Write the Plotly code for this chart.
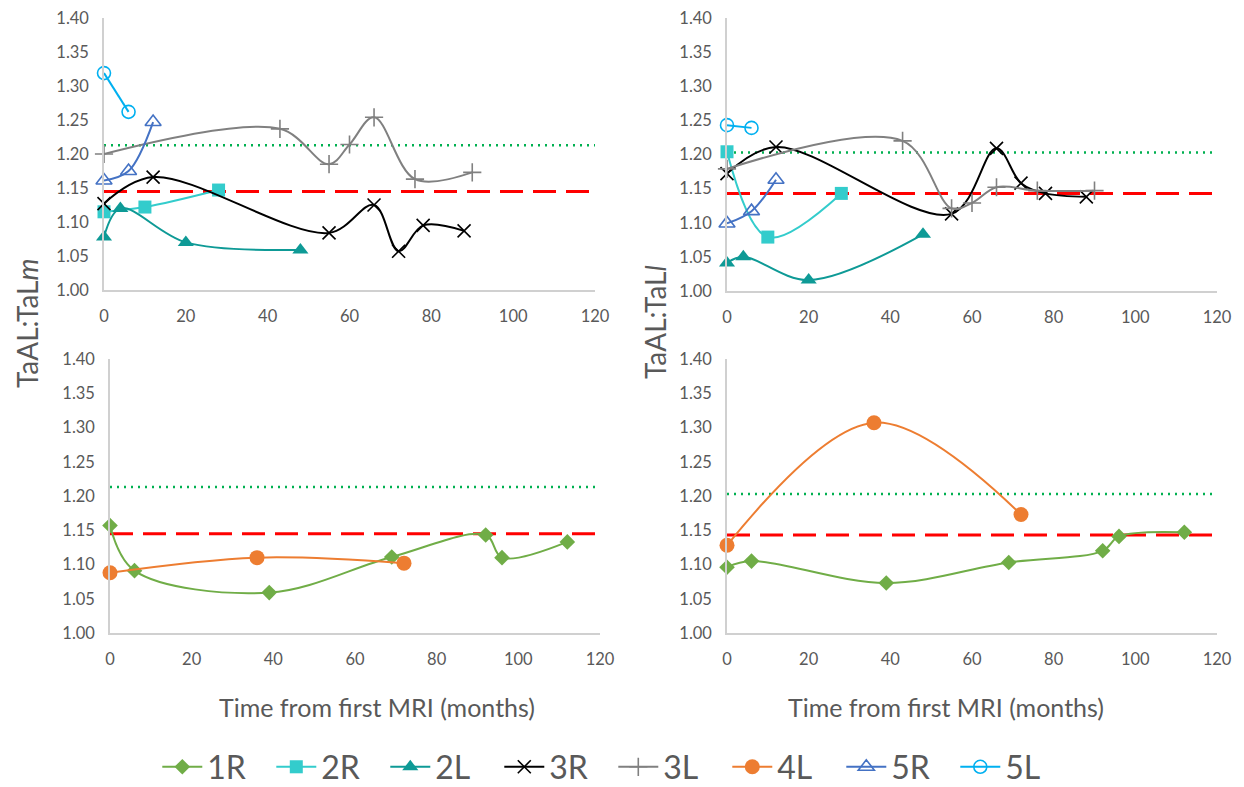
import plotly.graph_objects as go

# ---- data: months since first MRI and TaAL:TaL ratios ----
x_1R = [0, 6, 39, 69, 92, 96, 112]
x_2R = [0, 10, 28]
x_2L = [0, 4, 20, 48]
x_3R = [0, 12, 55, 66, 72, 78, 88]
x_3L = [0, 43, 55, 60, 66, 76, 90]
x_4L = [0, 36, 72]
x_5R = [0, 6, 12]
x_5L = [0, 6]

# TaAL:TaLm (medial)
m_1R = [1.157, 1.091, 1.059, 1.111, 1.143, 1.110, 1.133]
m_2R = [1.115, 1.122, 1.147]
m_2L = [1.078, 1.120, 1.070, 1.059]
m_3R = [1.127, 1.166, 1.084, 1.125, 1.057, 1.095, 1.087]
m_3L = [1.200, 1.237, 1.185, 1.214, 1.254, 1.163, 1.173]
m_4L = [1.088, 1.110, 1.102]
m_5R = [1.161, 1.175, 1.247]
m_5L = [1.319, 1.262]

# TaAL:TaLl (lateral)
l_1R = [1.096, 1.105, 1.073, 1.103, 1.120, 1.141, 1.147]
l_2R = [1.204, 1.079, 1.143]
l_2L = [1.041, 1.050, 1.016, 1.083]
l_3R = [1.172, 1.211, 1.113, 1.209, 1.158, 1.143, 1.138]
l_3L = [1.179, 1.220, 1.121, 1.129, 1.152, 1.147, 1.147]
l_4L = [1.128, 1.307, 1.173]
l_5R = [1.099, 1.117, 1.163]
l_5L = [1.243, 1.239]

# reference levels
m_dotted, m_dashed = 1.213, 1.145
l_dotted, l_dashed = 1.203, 1.143
ref_x = [0, 120]

x_ticks = [0, 20, 40, 60, 80, 100, 120]
y_ticks = [1.00, 1.05, 1.10, 1.15, 1.20, 1.25, 1.30, 1.35, 1.40]

FONT = "Lato"
GREY = "#595959"

styles = {
    "1R": dict(color="#70AD47", symbol="diamond", size=12, open=False),
    "2R": dict(color="#33CCCC", symbol="square", size=13, open=False),
    "2L": dict(color="#0E9A96", symbol="triangle-up", size=14, open=False),
    "3R": dict(color="#000000", symbol="x-thin", size=13, open=True),
    "3L": dict(color="#808080", symbol="cross-thin", size=13, open=True),
    "4L": dict(color="#ED7D31", symbol="circle", size=15, open=False),
    "5R": dict(color="#4472C4", symbol="triangle-up-open", size=14, open=True),
    "5L": dict(color="#00B0F0", symbol="circle-open", size=13, open=True),
}

panels = {
    # name: (xaxis, yaxis, series)
    "tl": ("x", "y", [("2R", x_2R, m_2R), ("2L", x_2L, m_2L), ("3R", x_3R, m_3R),
                      ("3L", x_3L, m_3L), ("5R", x_5R, m_5R), ("5L", x_5L, m_5L)]),
    "tr": ("x2", "y2", [("2R", x_2R, l_2R), ("2L", x_2L, l_2L), ("3R", x_3R, l_3R),
                        ("3L", x_3L, l_3L), ("5R", x_5R, l_5R), ("5L", x_5L, l_5L)]),
    "bl": ("x3", "y3", [("1R", x_1R, m_1R), ("4L", x_4L, m_4L)]),
    "br": ("x4", "y4", [("1R", x_1R, l_1R), ("4L", x_4L, l_4L)]),
}
ref_levels = {"tl": (m_dotted, m_dashed), "tr": (l_dotted, l_dashed),
              "bl": (m_dotted, m_dashed), "br": (l_dotted, l_dashed)}

fig = go.Figure()

# reference lines under the data
for key, (xa, ya, _) in panels.items():
    dotted, dashed = ref_levels[key]
    fig.add_trace(go.Scatter(x=ref_x, y=[dotted, dotted], mode="lines", xaxis=xa, yaxis=ya,
                             line=dict(color="#00B050", width=2.5, dash="2px,5px"),
                             showlegend=False, hoverinfo="skip"))
    fig.add_trace(go.Scatter(x=ref_x, y=[dashed, dashed], mode="lines", xaxis=xa, yaxis=ya,
                             line=dict(color="#FF0000", width=3, dash="23px,10px"),
                             showlegend=False, hoverinfo="skip"))

# data series
traces = []
for key, (xa, ya, series) in panels.items():
    for name, xs, ys in series:
        traces.append((name, xa, ya, xs, ys))

order = ["1R", "2R", "2L", "3R", "3L", "4L", "5R", "5L"]
shown = set()
for name in order:
    for (n, xa, ya, xs, ys) in traces:
        if n != name:
            continue
        st = styles[name]
        marker = dict(symbol=st["symbol"], size=st["size"], color=st["color"])
        if st["open"]:
            marker["line"] = dict(color=st["color"], width=1.6)
        else:
            marker["line"] = dict(width=0)
        fig.add_trace(go.Scatter(
            x=xs, y=ys, mode="lines+markers", name=name, legendgroup=name,
            showlegend=name not in shown, xaxis=xa, yaxis=ya,
            line=dict(color=st["color"], width=2, shape="spline", smoothing=1.0),
            marker=marker, cliponaxis=False))
        shown.add(name)

W, H = 1244, 787


def xdom(a, b):
    return [a / W, b / W]


def ydom(top, bottom):
    return [1 - bottom / H, 1 - top / H]


axis_common = dict(showgrid=False, zeroline=False, showline=True, linecolor="#D0D0D0",
                   linewidth=1.5, ticks="", tickfont=dict(family=FONT, size=16.5, color=GREY))

layout = dict(
    width=W, height=H, margin=dict(l=0, r=0, t=0, b=0, autoexpand=False),
    paper_bgcolor="white", plot_bgcolor="white",
    font=dict(family=FONT, color=GREY),
    showlegend=True,
    legend=dict(orientation="h", x=0.493, xanchor="center", y=1 - 767 / H, yanchor="middle",
                font=dict(family=FONT, size=32, color=GREY), itemwidth=40,
                entrywidth=59, entrywidthmode="pixels", bgcolor="rgba(0,0,0,0)"),
)

domains = {
    "x": xdom(104, 595), "y": ydom(18, 290),
    "x2": xdom(727, 1217), "y2": ydom(18, 291),
    "x3": xdom(110, 600), "y3": ydom(359, 633),
    "x4": xdom(727, 1217), "y4": ydom(359, 633),
}
for xa, ya in [("x", "y"), ("x2", "y2"), ("x3", "y3"), ("x4", "y4")]:
    xk = "xaxis" if xa == "x" else "xaxis" + xa[1:]
    yk = "yaxis" if ya == "y" else "yaxis" + ya[1:]
    layout[xk] = dict(axis_common, domain=domains[xa], range=[0, 120], tickvals=x_ticks,
                      ticktext=[str(v) for v in x_ticks], anchor=ya, ticklabelstandoff=10)
    layout[yk] = dict(axis_common, domain=domains[ya], range=[1.0, 1.4], tickvals=y_ticks,
                      ticktext=[f"{v:.2f}" for v in y_ticks], anchor=xa, ticklabelstandoff=10)

fig.update_layout(**layout)

# axis titles
fig.add_annotation(text="TaAL:TaL<i>m</i>", x=27 / W, y=1 - 323 / H, xref="paper", yref="paper",
                   xanchor="center", yanchor="middle", textangle=-90, showarrow=False,
                   font=dict(family=FONT, size=28, color=GREY))
fig.add_annotation(text="TaAL:TaL<i>l</i>", x=655 / W, y=1 - 322 / H, xref="paper", yref="paper",
                   xanchor="center", yanchor="middle", textangle=-90, showarrow=False,
                   font=dict(family=FONT, size=28, color=GREY))
for cx in (377, 946):
    fig.add_annotation(text="Time from first MRI (months)", x=cx / W, y=1 - 707 / H,
                       xref="paper", yref="paper", xanchor="center", yanchor="middle",
                       showarrow=False, font=dict(family=FONT, size=25, color=GREY))

fig.write_html("out.html")
